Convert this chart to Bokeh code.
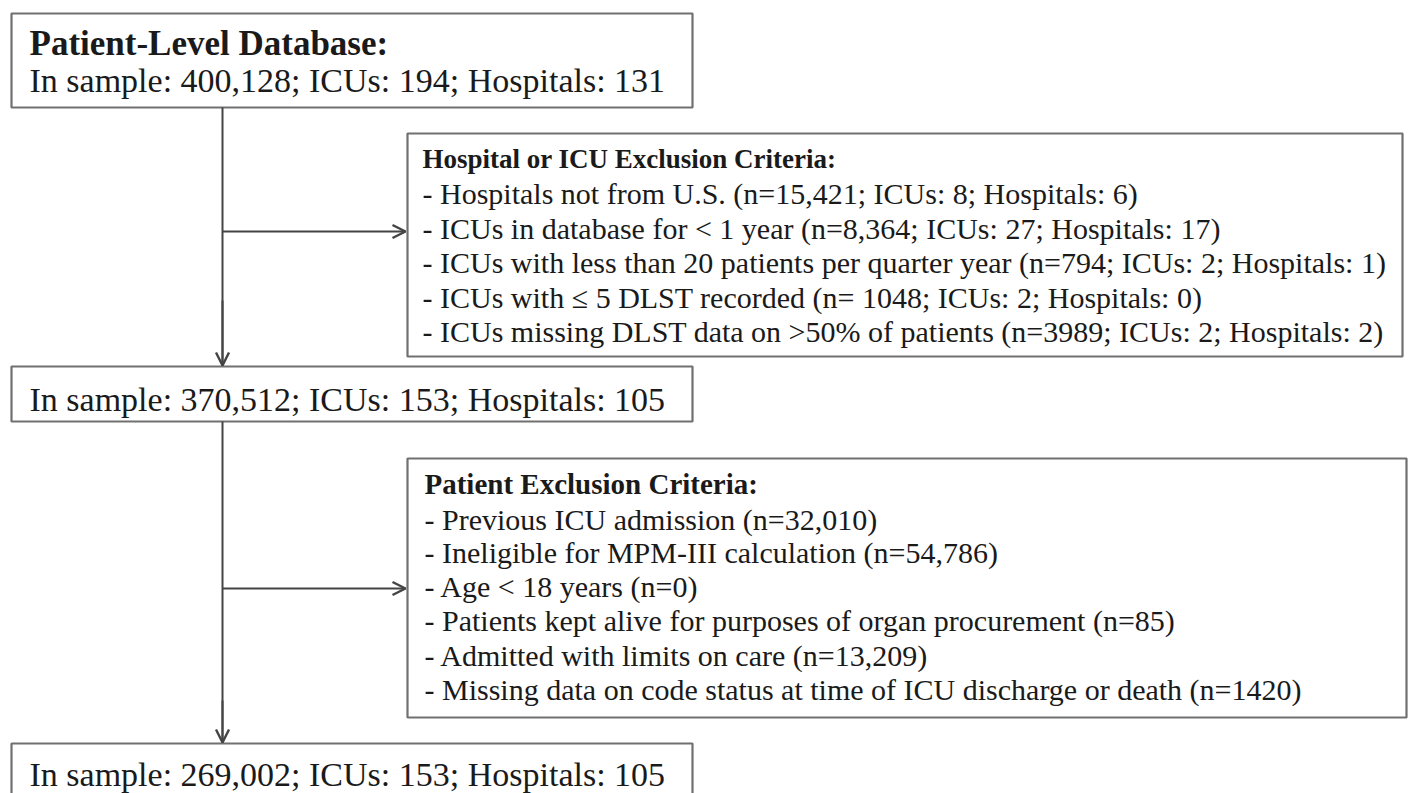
from bokeh.plotting import figure
from bokeh.models import Range1d, ColumnDataSource, Arrow, OpenHead
from bokeh.core.properties import value
from bokeh.embed import file_html
from bokeh.resources import INLINE

# ---------------- data ----------------
stage_counts = [400128, 370512, 269002]
stage_icus = [194, 153, 153]
stage_hospitals = [131, 105, 105]
top_title = "Patient-Level Database:"

hosp_title = "Hospital or ICU Exclusion Criteria:"
hosp_criteria = [
    "- Hospitals not from U.S. (n=15,421; ICUs: 8; Hospitals: 6)",
    "- ICUs in database for < 1 year (n=8,364; ICUs: 27; Hospitals: 17)",
    "- ICUs with less than 20 patients per quarter year (n=794; ICUs: 2; Hospitals: 1)",
    "- ICUs with \u2264 5 DLST recorded (n= 1048; ICUs: 2; Hospitals: 0)",
    "- ICUs missing DLST data on >50% of patients (n=3989; ICUs: 2; Hospitals: 2)",
]

pat_title = "Patient Exclusion Criteria:"
pat_criteria = [
    "- Previous ICU admission (n=32,010)",
    "- Ineligible for MPM-III calculation (n=54,786)",
    "- Age < 18 years (n=0)",
    "- Patients kept alive for purposes of organ procurement (n=85)",
    "- Admitted with limits on care (n=13,209)",
    "- Missing data on code status at time of ICU discharge or death (n=1420)",
]

stage_labels = [f"In sample: {n:,}; ICUs: {i}; Hospitals: {h}"
                for n, i, h in zip(stage_counts, stage_icus, stage_hospitals)]

# ---------------- layout ----------------
W, H = 1411, 793
p = figure(width=W, height=H, output_backend="svg", toolbar_location=None,
           x_range=Range1d(0, W), y_range=Range1d(H, 0),
           min_border=0, outline_line_color=None)
p.axis.visible = False
p.grid.visible = False
p.background_fill_color = "white"

FONT = value("Liberation Serif")
TXT = "#1a1a1a"
BOX = "#707070"
LINE = "#444444"

# boxes (left, top, right, bottom)
boxes = dict(
    left=[11, 11, 11, 407, 407],
    top=[13, 366, 743, 133, 458],
    right=[692, 692, 692, 1402, 1406],
    bottom=[107, 421, 830, 356, 717],
)
p.quad(source=ColumnDataSource(boxes), left="left", right="right", top="top", bottom="bottom",
       fill_color="white", line_color=BOX, line_width=2.2)

# connectors
trunk_x = 222
p.segment(x0=[trunk_x, trunk_x], y0=[107, 421], x1=[trunk_x, trunk_x], y1=[365, 742],
          line_color=LINE, line_width=2)
for (xs, ys, xe, ye) in [(trunk_x, 300, trunk_x, 365), (trunk_x, 700, trunk_x, 742),
                         (trunk_x, 231, 405, 231), (trunk_x, 588, 405, 588)]:
    p.add_layout(Arrow(end=OpenHead(size=13, line_width=2.4, line_color=LINE),
                       x_start=xs, y_start=ys, x_end=xe, y_end=ye,
                       line_color=LINE, line_width=2))

# texts
def txt(xs, ys, labels, size, style="normal"):
    p.text(x=xs, y=ys, text=labels, text_font=FONT, text_font_size=size,
           text_font_style=style, text_color=TXT, text_baseline="alphabetic",
           text_align="left")

txt([29], [43], [top_title], "35px", "bold")
txt([29, 29, 29], [80, 399, 774], stage_labels, "34px")

txt([422], [158], [hosp_title], "27px", "bold")
txt([422] * len(hosp_criteria), [193, 228, 262, 297, 331], hosp_criteria, "30px")

txt([424], [483], [pat_title], "29px", "bold")
txt([424] * len(pat_criteria), [519, 552, 586, 620, 655, 689], pat_criteria, "30px")

open("out.html", "w").write(file_html(p, INLINE))
